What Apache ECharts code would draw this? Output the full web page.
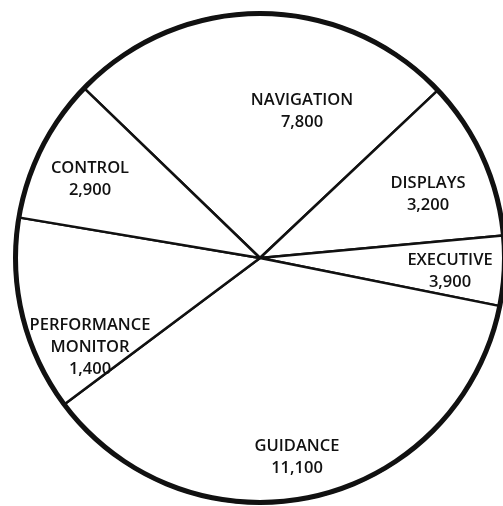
<!DOCTYPE html>
<html>
<head>
<meta charset="utf-8">
<title>Pie</title>
<script src="https://cdn.jsdelivr.net/npm/echarts@6/dist/echarts.min.js"></script>
<style>
html, body { margin: 0; padding: 0; background: #fff; }
#main { width: 503px; height: 506px; }
</style>
</head>
<body>
<div id="main"></div>
<script>
var categories = ['NAVIGATION', 'DISPLAYS', 'EXECUTIVE', 'GUIDANCE', 'PERFORMANCE\nMONITOR', 'CONTROL'];
// numbers as printed in each wedge
var printedValues = ['7,800', '3,200', '3,900', '11,100', '1,400', '2,900'];
// wedge sizes as drawn (the original draws EXECUTIVE and PERFORMANCE MONITOR with swapped sizes)
var wedgeValues = [7800, 3200, 1400, 11100, 3900, 2900];

// label centres, px
var labelPos = [[302, 111], [428, 194], [450, 271], [297, 457], [90, 347], [90, 179]];

var myChart = echarts.init(document.getElementById('main'));

var pieData = [];
for (var i = 0; i < categories.length; i++) {
    pieData.push({ name: categories[i], value: wedgeValues[i] });
}

var option = {
    backgroundColor: '#fff',
    animation: false,
    series: [{
        type: 'pie',
        center: [260, 258],
        radius: 245,
        startAngle: 136,
        clockwise: true,
        silent: true,
        avoidLabelOverlap: false,
        itemStyle: { color: '#fff', borderColor: '#111', borderWidth: 2.5 },
        label: {
            show: true,
            position: 'inside',
            color: '#111',
            fontFamily: 'Open Sans',
            fontSize: 16.5,
            fontWeight: 600,
            lineHeight: 22,
            align: 'center',
            formatter: function (p) {
                return p.name + '\n' + printedValues[p.dataIndex];
            }
        },
        labelLine: { show: false },
        labelLayout: function (p) {
            return {
                x: labelPos[p.dataIndex][0],
                y: labelPos[p.dataIndex][1],
                align: 'center',
                verticalAlign: 'middle'
            };
        },
        data: pieData
    }, {
        // thick outer rim
        type: 'pie',
        center: [260, 258],
        radius: [242, 247],
        silent: true,
        label: { show: false },
        labelLine: { show: false },
        itemStyle: { color: '#111', borderWidth: 0 },
        data: [{ value: 1 }]
    }]
};
myChart.setOption(option);
</script>
</body>
</html>
